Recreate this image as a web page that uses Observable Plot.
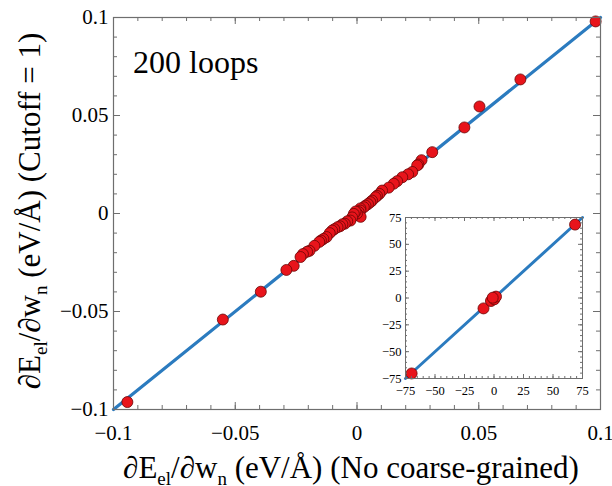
<!DOCTYPE html>
<html><head><meta charset="utf-8">
<script src="https://cdn.jsdelivr.net/npm/d3@7"></script>
<script src="https://cdn.jsdelivr.net/npm/@observablehq/plot@0.6"></script>
<style>
html,body{margin:0;padding:0;background:#fff;}
#chart{position:relative;width:612px;height:486px;font-family:'Liberation Serif',serif;}
.ttl{position:absolute;left:0;top:0;white-space:nowrap;line-height:31px;font-size:31px;color:#000;width:max-content;}
.ttl .sub{font-size:19px;position:relative;top:7px;}
</style>
</head><body>
<div id="chart"></div>
<script>
// ---- data ----
const xMain = [0.0980,0.0671,0.0503,0.0441,0.0309,0.0265,0.0252,0.0247,0.0227,0.0210,
  0.0186,0.0165,0.0151,0.0130,0.0103,0.0092,0.0082,0.0076,0.0062,0.0055,
  0.0045,0.0035,0.0028,0.0014,0.0014,0.0007,0.0015,0.0000,-0.0006,-0.0013,
  -0.0020,-0.0027,-0.0040,-0.0050,-0.0060,-0.0070,-0.0080,-0.0093,-0.0102,-0.0112,
  -0.0125,-0.0138,-0.0148,-0.0155,-0.0175,-0.0195,-0.0205,-0.0222,-0.0232,-0.0260,
  -0.0290,-0.0395,-0.0551,-0.0943];
const yMain = [0.0980,0.0684,0.0546,0.0439,0.0313,0.0272,0.0250,0.0245,0.0212,0.0200,
  0.0185,0.0165,0.0152,0.0132,0.0117,0.0100,0.0090,0.0083,0.0066,0.0058,
  0.0048,0.0040,0.0032,0.0026,0.0015,0.0007,-0.0017,0.0000,0.0010,-0.0002,
  -0.0020,-0.0036,-0.0040,-0.0052,-0.0055,-0.0065,-0.0070,-0.0080,-0.0087,-0.0100,
  -0.0120,-0.0130,-0.0138,-0.0145,-0.0165,-0.0190,-0.0195,-0.0207,-0.0222,-0.0267,
  -0.0288,-0.0399,-0.0541,-0.0962];
const xInset = [-69.8,-8.9,-2.6,0.3,1.7,-1.1,68.7];
const yInset = [-70.3,-9.7,-2.8,-1.2,1.3,0.3,68.4];
const fitMain = [-0.1, 0.1];
const fitInset = [-75, 75];
const mainTicks = [-0.1,-0.05,0,0.05,0.1];
const mainTickLabels = ["\u22120.1","\u22120.05","0","0.05","0.1"];
const insetTicks = [-75,-50,-25,0,25,50,75];
const insetTickLabels = ["\u221275","\u221250","\u221225","0","25","50","75"];
const annotation = "200 loops";
const xTitleParts = [["\u2202E",0],["el",1],["/\u2202w",0],["n",1],[" (eV/\u00C5) (No coarse-grained)",0]];
const yTitleParts = [["\u2202E",0],["el",1],["/\u2202w",0],["n",1],[" (eV/\u00C5) (Cutoff = 1)",0]];

// ---- styles ----
const FAM = "Liberation Serif";
const FONT = "'Liberation Serif', serif";
const LINE = "#2b7bbf", RED = "#e8141b", REDSTROKE = "#6a0505", FRAME = "#6e6e6e";

const mainMinor = d3.range(-10, 11).map(k => k / 100);
const insetMinor = d3.range(-15, 16).map(k => k * 5);

function tickMarks(major, minor, fw, fh, majLen, minLen) {
  const s = {stroke: FRAME, strokeWidth: 1};
  return [
    Plot.tickX(major, {x: d => d, ...s, insetTop: fh - majLen}),
    Plot.tickX(minor, {x: d => d, ...s, insetTop: fh - minLen}),
    Plot.tickX(major, {x: d => d, ...s, insetBottom: fh - majLen}),
    Plot.tickX(minor, {x: d => d, ...s, insetBottom: fh - minLen}),
    Plot.tickY(major, {y: d => d, ...s, insetRight: fw - majLen}),
    Plot.tickY(minor, {y: d => d, ...s, insetRight: fw - minLen}),
    Plot.tickY(major, {y: d => d, ...s, insetLeft: fw - majLen}),
    Plot.tickY(minor, {y: d => d, ...s, insetLeft: fw - minLen})
  ];
}
function serifize(el) {
  const s = d3.select(el);
  s.attr("font-family", FAM);
  s.selectAll("text").attr("font-family", FAM).style("font-family", FONT);
}

const chart = document.getElementById("chart");

// ---- main plot ----
const W = 610, H = 484, mL = 113, mR = 10, mT = 17, mB = 75;
const fw = W - mL - mR, fh = H - mT - mB;
const pts = xMain.map((x, i) => ({x, y: yMain[i]}));
const main = Plot.plot({
  width: W, height: H, marginLeft: mL, marginRight: mR, marginTop: mT, marginBottom: mB,
  x: {domain: [-0.1, 0.1]}, y: {domain: [-0.1, 0.1]},
  style: {fontFamily: FONT, fontSize: "21px", color: "#000", overflow: "visible",
          position: "absolute", left: "0px", top: "0px"},
  marks: [
    Plot.line(fitMain.map(v => ({x: v, y: v})), {x: "x", y: "y", stroke: LINE, strokeWidth: 3.2}),
    Plot.dot(pts, {x: "x", y: "y", r: 5.5, fill: RED, stroke: REDSTROKE, strokeWidth: 0.8}),
    ...tickMarks(mainTicks, mainMinor, fw, fh, 7, 4),
    Plot.frame({stroke: FRAME, strokeWidth: 1.2}),
    Plot.axisX(mainTicks, {anchor: "bottom", tickSize: 0, tickPadding: 16, fontSize: 21, label: null,
      tickFormat: d => mainTickLabels[mainTicks.indexOf(d)]}),
    Plot.axisY(mainTicks, {anchor: "left", tickSize: 0, tickPadding: 5, fontSize: 21, label: null,
      tickFormat: d => mainTickLabels[mainTicks.indexOf(d)]})
  ]
});
serifize(main);
chart.appendChild(main);

// ---- inset ----
const iW = 222, iH = 195, iL = 35, iR = 10, iT = 12, iB = 22;
const ifw = iW - iL - iR, ifh = iH - iT - iB;
const ipts = xInset.map((x, i) => ({x, y: yInset[i]}));
const inset = Plot.plot({
  width: iW, height: iH, marginLeft: iL, marginRight: iR, marginTop: iT, marginBottom: iB,
  x: {domain: [-75, 75]}, y: {domain: [-75, 75]},
  style: {fontFamily: FONT, fontSize: "12.5px", color: "#000", background: "transparent", overflow: "visible",
          position: "absolute", left: "370px", top: "205px"},
  marks: [
    Plot.frame({fill: "#fff", stroke: null}),
    Plot.line(fitInset.map(v => ({x: v, y: v})), {x: "x", y: "y", stroke: LINE, strokeWidth: 3}),
    Plot.dot(ipts, {x: "x", y: "y", r: 5.5, fill: RED, stroke: REDSTROKE, strokeWidth: 0.8}),
    ...tickMarks(insetTicks, insetMinor, ifw, ifh, 4, 2),
    Plot.frame({stroke: FRAME, strokeWidth: 1}),
    Plot.axisX(insetTicks, {anchor: "bottom", tickSize: 0, tickPadding: 8, fontSize: 12.5, label: null,
      tickFormat: d => insetTickLabels[insetTicks.indexOf(d)]}),
    Plot.axisY(insetTicks, {anchor: "left", tickSize: 0, tickPadding: 4, fontSize: 12.5, label: null,
      tickFormat: d => insetTickLabels[insetTicks.indexOf(d)]})
  ]
});
serifize(inset);
chart.appendChild(inset);

// ---- titles and annotation as HTML text ----
function htmlTitle(parts, transform) {
  const d = document.createElement("div");
  d.className = "ttl";
  parts.forEach(([t, sub]) => {
    const s = document.createElement("span");
    if (sub) s.className = "sub";
    s.textContent = t;
    d.appendChild(s);
  });
  d.style.transformOrigin = "0 0";
  d.style.transform = transform;
  chart.appendChild(d);
  return d;
}
htmlTitle(xTitleParts, "translate(351px, 452px) translate(-50%, 0)");
htmlTitle(yTitleParts, "translate(14px, 211px) rotate(-90deg) translate(-50%, 0)");
const ann = document.createElement("div");
ann.className = "ttl";
ann.style.fontSize = "32px";
ann.style.lineHeight = "32px";
ann.style.transform = "translate(133px, 46px)";
ann.textContent = annotation;
chart.appendChild(ann);
</script></body></html>
